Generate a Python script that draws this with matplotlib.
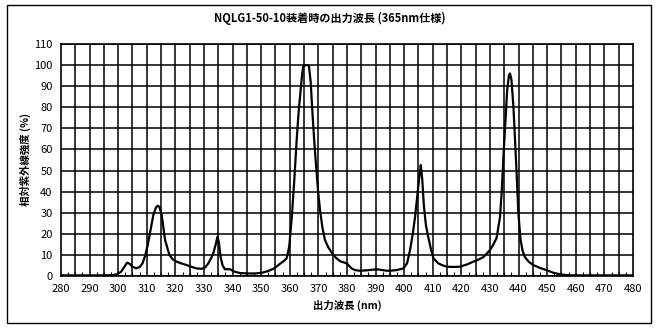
import matplotlib.pyplot as plt
import numpy as np
from matplotlib.patches import Rectangle
from matplotlib.ticker import MultipleLocator

plt.rcParams['font.family'] = ['Noto Sans CJK JP', 'DejaVu Sans']

# wavelength (nm) vs relative UV intensity (%)
wavelength = [280, 285, 290, 295, 298, 299.5, 301, 302, 303.1, 304, 305, 306.2,
              307.5, 308.5, 309.4, 310.3, 311.1, 312.3, 313.2, 313.8, 314.4,
              315.2, 316.4, 317.9, 319, 320.4, 322, 323.9, 325.5, 327.4, 329.2,
              330.5, 331.5, 332.5, 333.3, 334.1, 334.7, 335.2, 335.8, 336.5,
              337.3, 339.1, 340.8, 342.6, 345.5, 348, 350.5, 352.5, 354.5,
              356.6, 358, 358.9, 359.8, 360.7, 361.6, 362.4, 363.1, 363.8,
              364.3, 364.7, 365.5, 366.3, 366.7, 367.3, 368, 368.6, 369.2,
              369.9, 370.6, 371.4, 372.3, 373.5, 374.7, 376, 377.6, 379.9,
              381.6, 382.8, 384.5, 387, 390.4, 393.9, 395, 397.4, 399.7, 401,
              402, 403, 403.8, 404.8, 405.4, 405.8, 406.3, 406.9, 407.6, 408.4,
              409.3, 410.2, 411.9, 413.5, 414.9, 417, 419.5, 422, 424.2, 426,
              427.7, 429, 430, 431.2, 432.3, 433.5, 434.1, 434.7, 435.4, 436,
              436.6, 437, 437.5, 438.2, 438.7, 439.3, 439.9, 440.7, 441.4,
              442.2, 443.5, 445.1, 447.5, 449.8, 452, 454.5, 456.8, 460, 470, 480]
intensity = [0.3, 0.3, 0.3, 0.3, 0.4, 0.8, 2.0, 4.0, 6.3, 5.8, 4.4, 3.7,
             4.2, 6.0, 9.5, 14.5, 20.4, 29.0, 32.5, 33.3, 32.8,
             29.0, 17.0, 10.0, 8.0, 6.8, 6.0, 5.2, 4.4, 3.6, 3.4,
             4.2, 6.0, 8.5, 11.0, 15.0, 18.6, 16.0, 9.0, 5.0,
             3.2, 3.2, 2.0, 1.4, 1.2, 1.2, 1.6, 2.4, 3.6,
             5.8, 7.2, 8.4, 14.0, 28.0, 46.0, 64.5, 78.0, 88.0,
             95.5, 99.5, 100.0, 100.0, 99.5, 92.0, 75.5, 63.0, 52.0,
             40.0, 31.0, 23.0, 17.0, 13.5, 11.0, 8.8, 7.0, 6.0,
             3.6, 2.8, 2.5, 2.7, 3.2, 2.5, 2.5, 2.8, 3.6, 6.0,
             12.0, 20.0, 28.0, 41.0, 48.5, 52.6, 46.0, 33.0, 24.0, 18.6,
             13.0, 8.4, 6.0, 5.0, 4.4, 4.3, 4.4, 5.5, 6.8, 7.8,
             9.0, 10.8, 12.3, 15.0, 18.0, 28.0, 40.0, 56.6, 74.0, 88.0,
             95.0, 96.0, 93.0, 80.0, 66.0, 49.0, 30.0, 17.0, 12.0,
             9.0, 6.8, 5.2, 3.8, 2.8, 1.6, 0.8, 0.4, 0.3, 0.3, 0.3]

xticks = list(range(280, 481, 10))
yticks = list(range(0, 111, 10))

title = 'NQLG1-50-10装着時の出力波長 (365nm仕様)'
xlabel = '出力波長 (nm)'
ylabel = '相対紫外線強度 (%)'

fig = plt.figure(figsize=(6.59, 3.29), dpi=100)
ax = fig.add_axes([61 / 659, 1 - 276 / 329, 572 / 659, 232 / 329])

ax.plot(wavelength, intensity, color='black', lw=1.6, solid_joinstyle='round', zorder=3)

ax.set_xlim(280, 480)
ax.set_ylim(0, 110)
ax.set_xticks(xticks)
ax.set_yticks(yticks)
ax.xaxis.set_minor_locator(MultipleLocator(2.5))

# grid every 5 nm vertically, every 10 % horizontally
for gx in np.arange(285, 480, 5):
    ax.axvline(gx, color='black', lw=1.1, zorder=1)
ax.grid(axis='y', color='black', lw=1.1, zorder=1)

ax.tick_params(axis='both', which='major', length=0, labelsize=8, pad=6)
ax.tick_params(axis='x', which='minor', direction='in', length=3, width=0.8)
ax.tick_params(axis='y', which='minor', length=0)
for s in ax.spines.values():
    s.set_linewidth(1.2)

ax.set_xlabel(xlabel, fontsize=7.5, fontweight='bold', labelpad=4)
ax.set_ylabel(ylabel, fontsize=7.5, fontweight='bold')
ax.yaxis.set_label_coords(-30 / 572, 0.5)
fig.text(0.5, 1 - 18 / 329, title, ha='center', va='center',
         fontsize=8, fontweight='bold')

# outer frame round the whole chart
fig.patches.append(Rectangle((7 / 659, 1 - 323 / 329), 644 / 659, 318 / 329,
                             transform=fig.transFigure, fill=False,
                             edgecolor='black', lw=1.0))

fig.savefig('out.png', dpi=100)
